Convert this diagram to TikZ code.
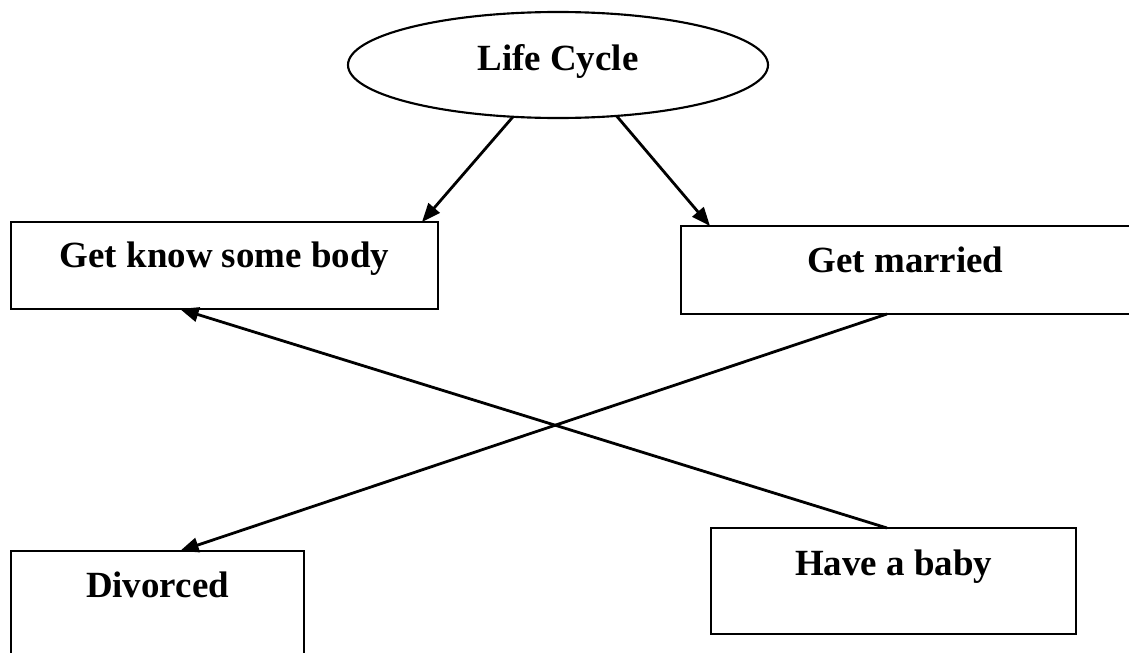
\documentclass[tikz,border=0pt]{standalone}
\usepackage{fontspec}
\setmainfont{Liberation Serif}
\usetikzlibrary{arrows.meta,calc,shapes.geometric}
\begin{document}
\begin{tikzpicture}[x=0.75pt,y=-0.75pt,
  lbl/.style={font=\bfseries\fontsize{27.7}{33}\selectfont},
  boxnode/.style={lbl,draw,line width=1.6pt,rectangle,inner sep=0pt,outer sep=0pt,anchor=north west},
  ellnode/.style={lbl,draw,line width=1.6pt,ellipse,inner sep=0pt,outer sep=0pt,
     minimum width=315pt,minimum height=79.5pt,text height=15pt,text depth=7.5pt},
  conn/.style={line width=2.1pt,-{Triangle[length=14pt,width=11pt]}}]
\useasboundingbox (0,0) rectangle (1129,653);
\node[ellnode] (life) at (558,65) {Life Cycle};
\node[boxnode,minimum width=320.25pt,text height=33.75pt,text depth=31.5pt] (b1) at (11,222) {Get know some body};
\node[boxnode,minimum width=336.75pt,text height=34.5pt,text depth=31.5pt] (b2) at (681,226) {Get married};
\node[boxnode,minimum width=219.75pt,text height=34.5pt,text depth=62.25pt] (b3) at (11,551) {Divorced};
\node[boxnode,minimum width=273.75pt,text height=35.25pt,text depth=44.25pt] (b4) at (711,528) {Have a baby};
\draw[conn] (life.229) -- ($(b1.north west)+(411,0)$);
\draw[conn] (life.319) -- ($(b2.north west)+(29,0)$);
\draw[conn] ($(b2.south west)+(206,0)$) -- ($(b3.north west)+(169,0)$);
\draw[conn] ($(b4.north west)+(176,0)$) -- ($(b1.south west)+(169,0)$);
\end{tikzpicture}
\end{document}
